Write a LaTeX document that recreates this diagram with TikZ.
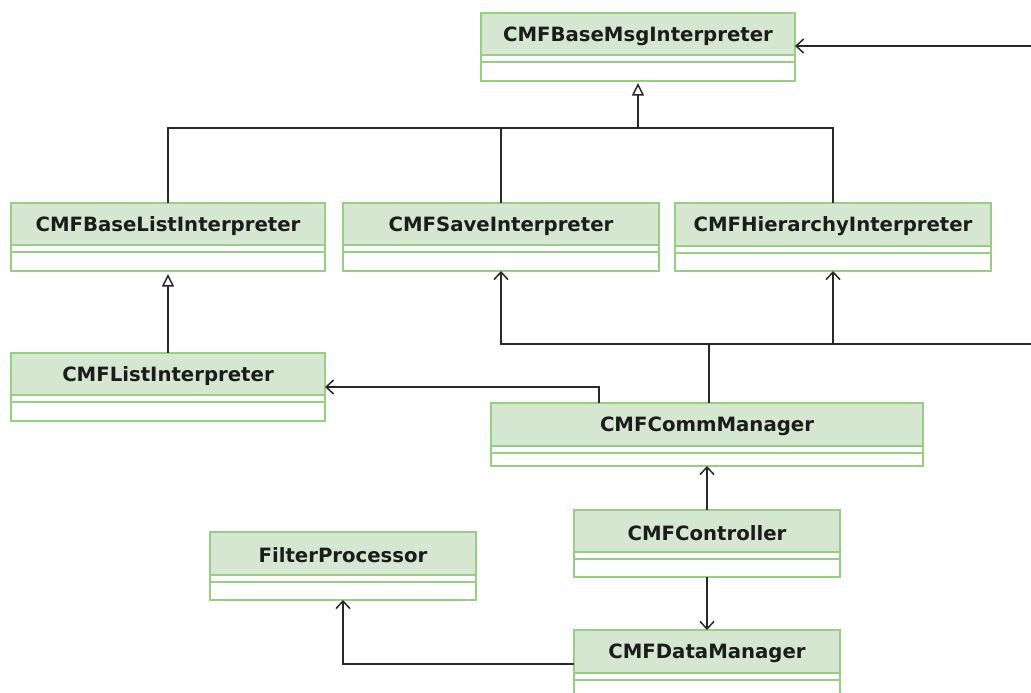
\documentclass[tikz,border=0pt]{standalone}
\usepackage{fontspec}
\setmainfont{DejaVu Sans}
\usetikzlibrary{arrows.meta}

\definecolor{hdrfill}{RGB}{213,231,209}
\definecolor{boxline}{RGB}{150,206,132}
\definecolor{connline}{RGB}{40,40,40}
\definecolor{nametext}{RGB}{28,28,28}

\tikzset{
  classbody/.style={fill=white, inner sep=0pt, outer sep=0pt},
  boxedge/.style={draw=boxline, line width=1.8pt},
  classname/.style={font=\bfseries\fontsize{19.7}{23}\selectfont, text=nametext, inner sep=0pt},
  conn/.style={draw=connline, line width=2pt},
  assoc/.style={conn, -{Straight Barb[length=7.5pt, width=14pt, line width=1.5pt]}},
  inherit/.style={conn, -{Triangle[fill=white, length=12.5pt, width=12pt, line width=1.5pt]}}
}

% #1 node name, #2 left, #3 top, #4 right, #5 bottom, #6 bottom of the title band, #7 class name
\newcommand\umlclass[7]{%
  \node[classbody, minimum width={(#4-#2)*1pt}, minimum height={(#5-#3)*1pt}]
    (#1) at ({(#2+#4)/2},{(#3+#5)/2}) {};
  \fill[hdrfill] (#2,#3) rectangle (#4,#6);
  \draw[boxedge] (#2,#6) -- (#4,#6) (#2,#6+7) -- (#4,#6+7);
  \draw[boxedge] (#1.north west) rectangle (#1.south east);
  \node[classname] (#1-name) at ({(#2+#4)/2},{(#3+#6)/2+2}) {#7};
}

\begin{document}
\begin{tikzpicture}[x=1pt, y=-1pt]
  \useasboundingbox (0,0) rectangle (1031,693);
  \fill[white] (0,0) rectangle (1031,693);
  \clip (0,0) rectangle (1031,693);

  % classes
  \umlclass{base}{481}{13}{795}{81}{55}{CMFBaseMsgInterpreter}
  \umlclass{baselist}{11}{203}{325}{271}{245}{CMFBaseListInterpreter}
  \umlclass{save}{343}{203}{659}{271}{245}{CMFSaveInterpreter}
  \umlclass{hier}{675}{203}{991}{271}{246}{CMFHierarchyInterpreter}
  \umlclass{list}{11}{353}{325}{421}{395}{CMFListInterpreter}
  \umlclass{comm}{491}{403}{923}{466}{446}{CMFCommManager}
  \umlclass{ctrl}{574}{510}{840}{577}{552}{CMFController}
  \umlclass{filter}{210}{532}{476}{600}{575}{FilterProcessor}
  \umlclass{data}{574}{630}{840}{700}{673}{CMFDataManager}

  % routing points
  \coordinate (genbus) at (0,128);
  \coordinate (feedin) at (1031,46);
  \coordinate (listbend) at (599,387);
  \coordinate (commbus) at (709,344);
  \coordinate (busend) at (1031,344);

  % generalisation tree below CMFBaseMsgInterpreter
  \draw[conn] (baselist.north) |- (hier.north |- genbus) -- (hier.north);
  \draw[conn] (save.north) -- (save.north |- genbus);
  \draw[inherit] (base.south |- genbus) -- ([yshift=-2pt]base.south);
  \draw[inherit] (list.north) -- ([yshift=-3pt]baselist.south);

  % associations
  \draw[assoc] (feedin) -- (feedin -| base.east);
  \draw[assoc] (listbend |- comm.north) -- (listbend) -- (listbend -| list.east);
  \draw[conn] (commbus |- comm.north) -- (commbus);
  \draw[assoc] (busend) -| (save.south);
  \draw[assoc] (commbus -| hier.south) -- (hier.south);
  \draw[assoc] (ctrl.north) -- (ctrl.north |- comm.south);
  \draw[assoc] (ctrl.south) -- (data.north);
  \draw[assoc] (data.west |- 0,664) -| (filter.south);
\end{tikzpicture}
\end{document}
